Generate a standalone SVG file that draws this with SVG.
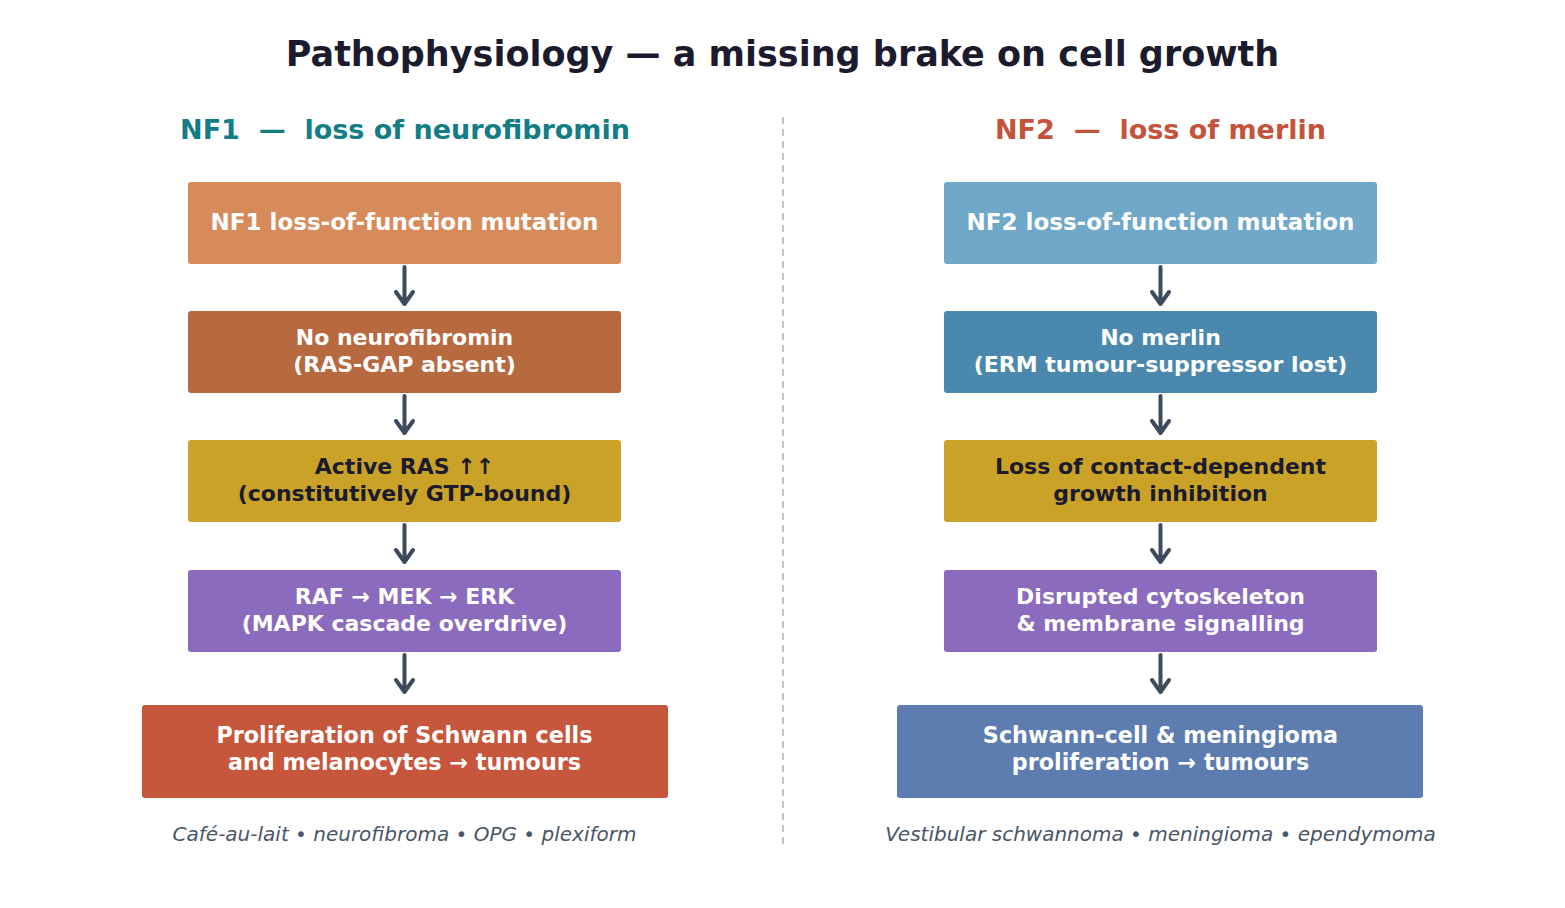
<svg xmlns="http://www.w3.org/2000/svg" width="1565" height="908" viewBox="0 0 1565 908">
<defs>
<style>
.title{font-family:"DejaVu Sans",sans-serif;font-weight:bold;font-size:35px;fill:#1c1b2e;text-anchor:middle}
.head{font-family:"DejaVu Sans",sans-serif;font-weight:bold;font-size:27px;text-anchor:middle}
.bt{font-family:"DejaVu Sans",sans-serif;font-weight:bold;font-size:22px;fill:#ffffff;text-anchor:middle}
.b1{font-size:23px}
.b5{font-size:22.3px}
.dk{fill:#1c1b2e}
.foot{font-family:"DejaVu Sans",sans-serif;font-style:italic;font-size:20px;fill:#4a5565;text-anchor:middle}
.arr{stroke:#3d4b5c;stroke-width:4;fill:none;stroke-linecap:round;stroke-linejoin:round}
</style>
</defs>
<rect width="1565" height="908" fill="#ffffff"/>
<text class="title" x="782.5" y="66">Pathophysiology — a missing brake on cell growth</text>
<line x1="783" y1="117" x2="783" y2="848" stroke="#c4c4c4" stroke-width="2" stroke-dasharray="7,5"/>
<text class="head" x="405" y="139" fill="#137d86" xml:space="preserve">NF1  —  loss of neurofibromin</text>
<text class="head" x="1160.5" y="139" fill="#c4533b" xml:space="preserve">NF2  —  loss of merlin</text>

<g id="nf1-mutation"><rect x="188" y="182" width="433" height="82" rx="3" fill="#d78b5b"/><text class="bt b1" x="404.5" y="230">NF1 loss-of-function mutation</text></g>
<g id="nf1-noneuro"><rect x="188" y="311" width="433" height="82" rx="3" fill="#b76a40"/><text class="bt" x="404.5" y="345">No neurofibromin</text><text class="bt" x="404.5" y="372">(RAS-GAP absent)</text></g>
<g id="nf1-ras"><rect x="188" y="440" width="433" height="82" rx="3" fill="#c9a227"/><text class="bt dk" x="404.5" y="474">Active RAS ↑↑</text><text class="bt dk" x="404.5" y="501">(constitutively GTP-bound)</text></g>
<g id="nf1-mapk"><rect x="188" y="570" width="433" height="82" rx="3" fill="#8b6bbd"/><text class="bt" x="404.5" y="604">RAF → MEK → ERK</text><text class="bt" x="404.5" y="631">(MAPK cascade overdrive)</text></g>
<g id="nf1-prolif"><rect x="142" y="705" width="526" height="93" rx="3" fill="#c6563c"/><text class="bt b5" x="404.5" y="743">Proliferation of Schwann cells</text><text class="bt b5" x="404.5" y="770">and melanocytes → tumours</text></g>
<text class="foot" x="404.5" y="841">Café-au-lait • neurofibroma • OPG • plexiform</text>

<g id="nf2-mutation"><rect x="944" y="182" width="433" height="82" rx="3" fill="#6fa8c8"/><text class="bt b1" x="1160.5" y="230">NF2 loss-of-function mutation</text></g>
<g id="nf2-nomerlin"><rect x="944" y="311" width="433" height="82" rx="3" fill="#4a89ad"/><text class="bt" x="1160.5" y="345">No merlin</text><text class="bt" x="1160.5" y="372">(ERM tumour-suppressor lost)</text></g>
<g id="nf2-contact"><rect x="944" y="440" width="433" height="82" rx="3" fill="#c9a227"/><text class="bt dk" x="1160.5" y="474">Loss of contact-dependent</text><text class="bt dk" x="1160.5" y="501">growth inhibition</text></g>
<g id="nf2-cyto"><rect x="944" y="570" width="433" height="82" rx="3" fill="#8b6bbd"/><text class="bt" x="1160.5" y="604">Disrupted cytoskeleton</text><text class="bt" x="1160.5" y="631">&amp; membrane signalling</text></g>
<g id="nf2-prolif"><rect x="897" y="705" width="526" height="93" rx="3" fill="#5d7db0"/><text class="bt b5" x="1160.5" y="743">Schwann-cell &amp; meningioma</text><text class="bt b5" x="1160.5" y="770">proliferation → tumours</text></g>
<text class="foot" x="1160.5" y="841">Vestibular schwannoma • meningioma • ependymoma</text>

<g id="connectors">
<path class="arr" d="M404.5 267V304M396 292L404.5 304L413 292"/>
<path class="arr" d="M404.5 396V433M396 421L404.5 433L413 421"/>
<path class="arr" d="M404.5 525V562M396 550L404.5 562L413 550"/>
<path class="arr" d="M404.5 655V692M396 680L404.5 692L413 680"/>
<path class="arr" d="M1160.5 267V304M1152 292L1160.5 304L1169 292"/>
<path class="arr" d="M1160.5 396V433M1152 421L1160.5 433L1169 421"/>
<path class="arr" d="M1160.5 525V562M1152 550L1160.5 562L1169 550"/>
<path class="arr" d="M1160.5 655V692M1152 680L1160.5 692L1169 680"/>
</g>
</svg>
